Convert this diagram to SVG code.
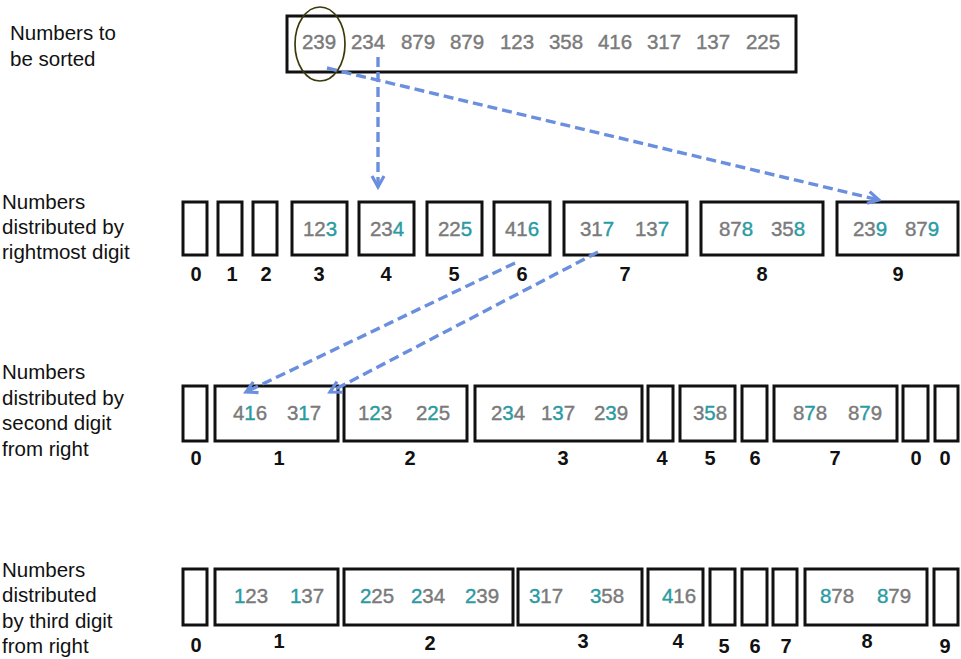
<svg xmlns="http://www.w3.org/2000/svg" width="961" height="659" viewBox="0 0 961 659">
<style>
.lbl{font-family:"Liberation Sans",Arial,sans-serif;font-size:20.5px;fill:#111}
.box{fill:#fff;stroke:#111;stroke-width:3}
.num{font-family:"Liberation Sans",Arial,sans-serif;font-size:20.5px;fill:#7a7a7a;stroke:#7a7a7a;stroke-width:0.4;text-anchor:middle}
.hl{fill:#2a9ba3;stroke:#2a9ba3}
.bk{font-family:"Liberation Sans",Arial,sans-serif;font-size:20px;font-weight:bold;fill:#111;text-anchor:middle}
.arr{fill:none;stroke:#6b8fdf;stroke-width:3.4;stroke-dasharray:10 5}
</style>
<defs>
<marker id="ah" markerUnits="userSpaceOnUse" markerWidth="16" markerHeight="16" refX="12" refY="7" orient="auto" viewBox="0 0 16 14">
<path d="M1,1 L12,7 L1,13" fill="none" stroke="#6b8fdf" stroke-width="3.2"/>
</marker>
</defs>
<rect width="961" height="659" fill="#fff"/>

<g id="row-labels">
<text class="lbl" x="10" y="40">Numbers to</text>
<text class="lbl" x="10" y="66">be sorted</text>
<text class="lbl" x="2" y="209">Numbers</text>
<text class="lbl" x="2" y="234">distributed by</text>
<text class="lbl" x="2" y="259">rightmost digit</text>
<text class="lbl" x="2" y="379">Numbers</text>
<text class="lbl" x="2" y="405">distributed by</text>
<text class="lbl" x="2" y="430">second digit</text>
<text class="lbl" x="2" y="456">from right</text>
<text class="lbl" x="2" y="577">Numbers</text>
<text class="lbl" x="2" y="602">distributed</text>
<text class="lbl" x="2" y="628">by third digit</text>
<text class="lbl" x="2" y="653">from right</text>
</g>

<g id="input">
<rect class="box" x="287" y="16" width="509" height="56"/>
<text class="num" y="49"><tspan x="319">239</tspan><tspan x="368">234</tspan><tspan x="418">879</tspan><tspan x="467">879</tspan><tspan x="517">123</tspan><tspan x="566">358</tspan><tspan x="615">416</tspan><tspan x="664">317</tspan><tspan x="713">137</tspan><tspan x="763">225</tspan></text>
<ellipse cx="320" cy="44" rx="25" ry="37" fill="none" stroke="#3c3a0a" stroke-width="1.7"/>
</g>

<g id="pass1">
<g id="p1-0"><rect class="box" x="183" y="202" width="24" height="53"/><text class="bk" x="196" y="281">0</text></g>
<g id="p1-1"><rect class="box" x="218" y="202" width="24" height="53"/><text class="bk" x="232" y="281">1</text></g>
<g id="p1-2"><rect class="box" x="253" y="202" width="24" height="53"/><text class="bk" x="266" y="281">2</text></g>
<g id="p1-3"><rect class="box" x="292" y="202" width="55" height="53"/><text class="num" x="320" y="236">12<tspan class="hl">3</tspan></text><text class="bk" x="319" y="281">3</text></g>
<g id="p1-4"><rect class="box" x="359" y="202" width="55" height="53"/><text class="num" x="387" y="236">23<tspan class="hl">4</tspan></text><text class="bk" x="386" y="281">4</text></g>
<g id="p1-5"><rect class="box" x="427" y="202" width="55" height="53"/><text class="num" x="455" y="236">22<tspan class="hl">5</tspan></text><text class="bk" x="454" y="281">5</text></g>
<g id="p1-6"><rect class="box" x="494" y="202" width="56" height="53"/><text class="num" x="522" y="236">41<tspan class="hl">6</tspan></text><text class="bk" x="522" y="281">6</text></g>
<g id="p1-7"><rect class="box" x="564" y="202" width="123" height="53"/><text class="num" y="236"><tspan x="597">31<tspan class="hl">7</tspan></tspan><tspan x="652">13<tspan class="hl">7</tspan></tspan></text><text class="bk" x="625" y="281">7</text></g>
<g id="p1-8"><rect class="box" x="701" y="202" width="122" height="53"/><text class="num" y="236"><tspan x="736">87<tspan class="hl">8</tspan></tspan><tspan x="788">35<tspan class="hl">8</tspan></tspan></text><text class="bk" x="762" y="281">8</text></g>
<g id="p1-9"><rect class="box" x="837" y="202" width="121" height="53"/><text class="num" y="236"><tspan x="870">23<tspan class="hl">9</tspan></tspan><tspan x="922">87<tspan class="hl">9</tspan></tspan></text><text class="bk" x="898" y="281">9</text></g>
</g>

<g id="pass2">
<g id="p2-0"><rect class="box" x="183" y="386" width="24" height="55"/><text class="bk" x="196" y="465">0</text></g>
<g id="p2-1"><rect class="box" x="215" y="386" width="123" height="55"/><text class="num" y="420"><tspan x="250">4<tspan class="hl">1</tspan>6</tspan><tspan x="304">3<tspan class="hl">1</tspan>7</tspan></text><text class="bk" x="279" y="465">1</text></g>
<g id="p2-2"><rect class="box" x="344" y="386" width="123" height="55"/><text class="num" y="420"><tspan x="375">1<tspan class="hl">2</tspan>3</tspan><tspan x="433">2<tspan class="hl">2</tspan>5</tspan></text><text class="bk" x="410" y="465">2</text></g>
<g id="p2-3"><rect class="box" x="475" y="386" width="167" height="55"/><text class="num" y="420"><tspan x="508">2<tspan class="hl">3</tspan>4</tspan><tspan x="558">1<tspan class="hl">3</tspan>7</tspan><tspan x="611">2<tspan class="hl">3</tspan>9</tspan></text><text class="bk" x="563" y="465">3</text></g>
<g id="p2-4"><rect class="box" x="648" y="386" width="25" height="55"/><text class="bk" x="662" y="465">4</text></g>
<g id="p2-5"><rect class="box" x="680" y="386" width="55" height="55"/><text class="num" x="710" y="420">3<tspan class="hl">5</tspan>8</text><text class="bk" x="710" y="465">5</text></g>
<g id="p2-6"><rect class="box" x="742" y="386" width="25" height="55"/><text class="bk" x="755" y="465">6</text></g>
<g id="p2-7"><rect class="box" x="774" y="386" width="123" height="55"/><text class="num" y="420"><tspan x="810">8<tspan class="hl">7</tspan>8</tspan><tspan x="865">8<tspan class="hl">7</tspan>9</tspan></text><text class="bk" x="835" y="465">7</text></g>
<g id="p2-8"><rect class="box" x="903" y="386" width="25" height="55"/><text class="bk" x="916" y="465">0</text></g>
<g id="p2-9"><rect class="box" x="935" y="386" width="23" height="55"/><text class="bk" x="945" y="465">0</text></g>
</g>

<g id="pass3">
<g id="p3-0"><rect class="box" x="183" y="569" width="24" height="56"/><text class="bk" x="196" y="652">0</text></g>
<g id="p3-1"><rect class="box" x="215" y="569" width="123" height="56"/><text class="num" y="603"><tspan x="251"><tspan class="hl">1</tspan>23</tspan><tspan x="307"><tspan class="hl">1</tspan>37</tspan></text><text class="bk" x="279" y="648">1</text></g>
<g id="p3-2"><rect class="box" x="344" y="569" width="169" height="56"/><text class="num" y="603"><tspan x="377"><tspan class="hl">2</tspan>25</tspan><tspan x="428"><tspan class="hl">2</tspan>34</tspan><tspan x="482"><tspan class="hl">2</tspan>39</tspan></text><text class="bk" x="430" y="650">2</text></g>
<g id="p3-3"><rect class="box" x="518" y="569" width="124" height="56"/><text class="num" y="603"><tspan x="546"><tspan class="hl">3</tspan>17</tspan><tspan x="607"><tspan class="hl">3</tspan>58</tspan></text><text class="bk" x="583" y="648">3</text></g>
<g id="p3-4"><rect class="box" x="648" y="569" width="55" height="56"/><text class="num" x="679" y="603"><tspan class="hl">4</tspan>16</text><text class="bk" x="678" y="648">4</text></g>
<g id="p3-5"><rect class="box" x="710" y="569" width="25" height="56"/><text class="bk" x="724" y="653">5</text></g>
<g id="p3-6"><rect class="box" x="742" y="569" width="25" height="56"/><text class="bk" x="755" y="653">6</text></g>
<g id="p3-7"><rect class="box" x="773" y="569" width="24" height="56"/><text class="bk" x="786" y="653">7</text></g>
<g id="p3-8"><rect class="box" x="805" y="569" width="122" height="56"/><text class="num" y="603"><tspan x="837"><tspan class="hl">8</tspan>78</tspan><tspan x="894"><tspan class="hl">8</tspan>79</tspan></text><text class="bk" x="867" y="648">8</text></g>
<g id="p3-9"><rect class="box" x="934" y="569" width="24" height="56"/><text class="bk" x="945" y="653">9</text></g>
</g>

<g id="connectors">
<path class="arr" d="M378,57 L378,187" marker-end="url(#ah)"/>
<path class="arr" d="M327,68 L879,200" marker-end="url(#ah)"/>
<path class="arr" d="M515,263 L246,392" marker-end="url(#ah)"/>
<path class="arr" d="M598,252 L330,392" marker-end="url(#ah)"/>
</g>
</svg>
